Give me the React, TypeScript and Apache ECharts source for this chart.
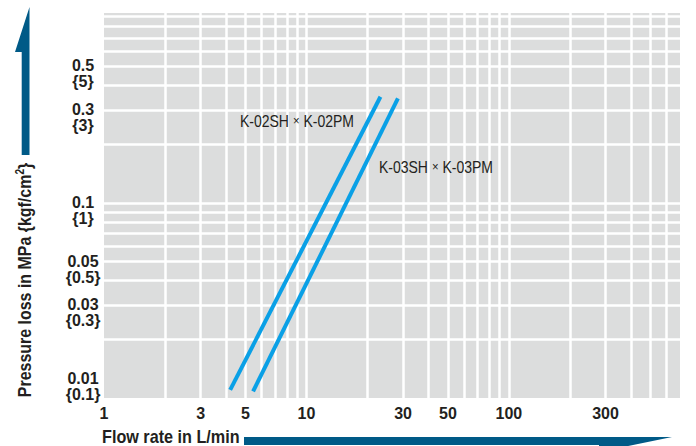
import React, { useEffect, useRef } from "react";
import * as echarts from "echarts";

// Axis tick labels
const flowTicks = [1, 3, 5, 10, 30, 50, 100, 300];
const lossTicks = [0.5, 0.3, 0.1, 0.05, 0.03, 0.01];
const lossTicksKgf = ["5", "3", "1", "0.5", "0.3", "0.1"];

// Grid lines (log paper)
const flowGrid = [2, 3, 4, 5, 6, 7, 8, 9, 10, 20, 30, 40, 50, 60, 70, 80, 90, 100, 200, 300, 400, 500, 600];
const lossGrid = [0.02, 0.03, 0.04, 0.05, 0.06, 0.07, 0.08, 0.09, 0.1, 0.2, 0.3, 0.4, 0.5, 0.6, 0.7, 0.8, 0.9];

// Series: flow rate (L/min) vs pressure loss (MPa)
const k02Flow = [4.2, 23.2];
const k02Loss = [0.011, 0.35];
const k03Flow = [5.45, 28.3];
const k03Loss = [0.0108, 0.343];

const SANS = "'Liberation Sans', Arial, Helvetica, sans-serif";
const ARROW = "#005a87";
const LINE = "#0aa0e6";
const TEXT = "#231f20";

export default function App() {
  const ref = useRef<HTMLDivElement>(null);
  useEffect(() => {
    const chart = echarts.init(ref.current!, null, { renderer: "svg", width: 696, height: 446 });

    const xValues = Array.from(new Set([...flowTicks, ...flowGrid])).sort((a, b) => a - b);
    const yValues = Array.from(new Set([...lossTicks, ...lossGrid])).sort((a, b) => a - b);

    const tickFont = {
      fontFamily: SANS,
      fontWeight: "bold",
      fontSize: 16,
      color: TEXT,
      opacity: 1,
    };

    const xItems = xValues.map((v) => {
      const labelled = flowTicks.includes(v);
      const gridded = flowGrid.includes(v);
      return {
        xAxis: v,
        lineStyle: gridded ? {} : { width: 0 },
        label: labelled
          ? {
              show: true,
              position: "start",
              distance: 15,
              align: "center",
              verticalAlign: "middle",
              formatter: () => String(v),
              ...tickFont,
            }
          : { show: false },
      };
    });

    const yItems = yValues.map((v) => {
      const idx = lossTicks.indexOf(v);
      const gridded = lossGrid.includes(v);
      return {
        yAxis: v,
        lineStyle: gridded ? {} : { width: 0 },
        label:
          idx >= 0
            ? {
                show: true,
                position: "start",
                distance: 21,
                align: "center",
                verticalAlign: "middle",
                offset: [0, v === 0.01 ? -12 : 7.5],
                lineHeight: 16,
                formatter: () => lossTicks[idx] + "\n{" + lossTicksKgf[idx] + "}",
                ...tickFont,
              }
            : { show: false },
      };
    });

    const option: any = {
      animation: false,
      grid: {
        left: 104,
        right: 16,
        top: 13,
        bottom: 48,
        show: true,
        backgroundColor: "#dcdddd",
        borderWidth: 0,
      },
      xAxis: {
        type: "log",
        logBase: 10,
        min: 1,
        max: 700,
        axisLine: { show: false },
        axisTick: { show: false },
        axisLabel: { show: false },
        splitLine: { show: false },
      },
      yAxis: {
        type: "log",
        logBase: 10,
        min: 0.01,
        max: 0.94,
        axisLine: { show: false },
        axisTick: { show: false },
        axisLabel: { show: false },
        splitLine: { show: false },
      },
      series: [
        {
          type: "line",
          data: [],
          silent: true,
          z: 1,
          markLine: {
            silent: true,
            z: 1,
            animation: false,
            symbol: ["none", "none"],
            lineStyle: { color: "#ffffff", width: 2.5, type: "solid" },
            label: { show: false },
            emphasis: { disabled: true },
            data: [...xItems, ...yItems],
          },
        },
        {
          name: "K-02SH × K-02PM",
          type: "line",
          z: 10,
          symbol: "none",
          silent: true,
          lineStyle: { color: LINE, width: 4, cap: "butt" },
          data: k02Flow.map((f, i) => [f, k02Loss[i]]),
        },
        {
          name: "K-03SH × K-03PM",
          type: "line",
          z: 10,
          symbol: "none",
          silent: true,
          lineStyle: { color: LINE, width: 4, cap: "butt" },
          data: k03Flow.map((f, i) => [f, k03Loss[i]]),
        },
      ],
      graphic: [
        {
          type: "polygon",
          silent: true,
          z: 100,
          shape: {
            points: [
              [15, 52],
              [29.5, 7],
              [29.5, 155],
              [21.7, 155],
              [21.7, 52],
            ],
          },
          style: { fill: ARROW },
        },
        {
          type: "polygon",
          silent: true,
          z: 100,
          shape: {
            points: [
              [244, 437],
              [672, 437],
              [599, 452],
              [599, 445],
              [244, 445],
            ],
          },
          style: { fill: ARROW },
        },
        {
          type: "text",
          silent: true,
          z: 100,
          x: 25,
          y: 280,
          rotation: Math.PI / 2,
          scaleX: 0.84,
          style: {
            text: "Pressure loss in MPa {kgf/cm{sup|2}}",
            align: "center",
            verticalAlign: "middle",
            fontFamily: SANS,
            fontWeight: "bold",
            fontSize: 19,
            lineHeight: 22,
            fill: TEXT,
            rich: {
              sup: {
                fontFamily: SANS,
                fontWeight: "bold",
                fontSize: 12,
                lineHeight: 13,
                verticalAlign: "top",
                fill: TEXT,
              },
            },
          },
        },
        {
          type: "text",
          silent: true,
          z: 100,
          x: 102,
          y: 446,
          scaleX: 0.9,
          style: {
            text: "Flow rate in L/min",
            align: "left",
            verticalAlign: "bottom",
            fontFamily: SANS,
            fontWeight: "bold",
            fontSize: 18,
            lineHeight: 18,
            fill: TEXT,
          },
        },
        {
          type: "text",
          silent: true,
          z: 100,
          x: 240,
          y: 121,
          scaleX: 0.875,
          style: {
            text: "K-02SH {m|×} K-02PM",
            align: "left",
            verticalAlign: "middle",
            fontFamily: SANS,
            fontSize: 16,
            fill: TEXT,
            rich: { m: { fontFamily: SANS, fontSize: 13, fill: TEXT } },
          },
        },
        {
          type: "text",
          silent: true,
          z: 100,
          x: 379,
          y: 167,
          scaleX: 0.875,
          style: {
            text: "K-03SH {m|×} K-03PM",
            align: "left",
            verticalAlign: "middle",
            fontFamily: SANS,
            fontSize: 16,
            fill: TEXT,
            rich: { m: { fontFamily: SANS, fontSize: 13, fill: TEXT } },
          },
        },
      ],
    };

    chart.setOption(option);
    return () => chart.dispose();
  }, []);

  return (
    <div
      ref={ref}
      style={{ position: "absolute", left: 0, top: 0, width: 696, height: 446, background: "#ffffff" }}
    />
  );
}
